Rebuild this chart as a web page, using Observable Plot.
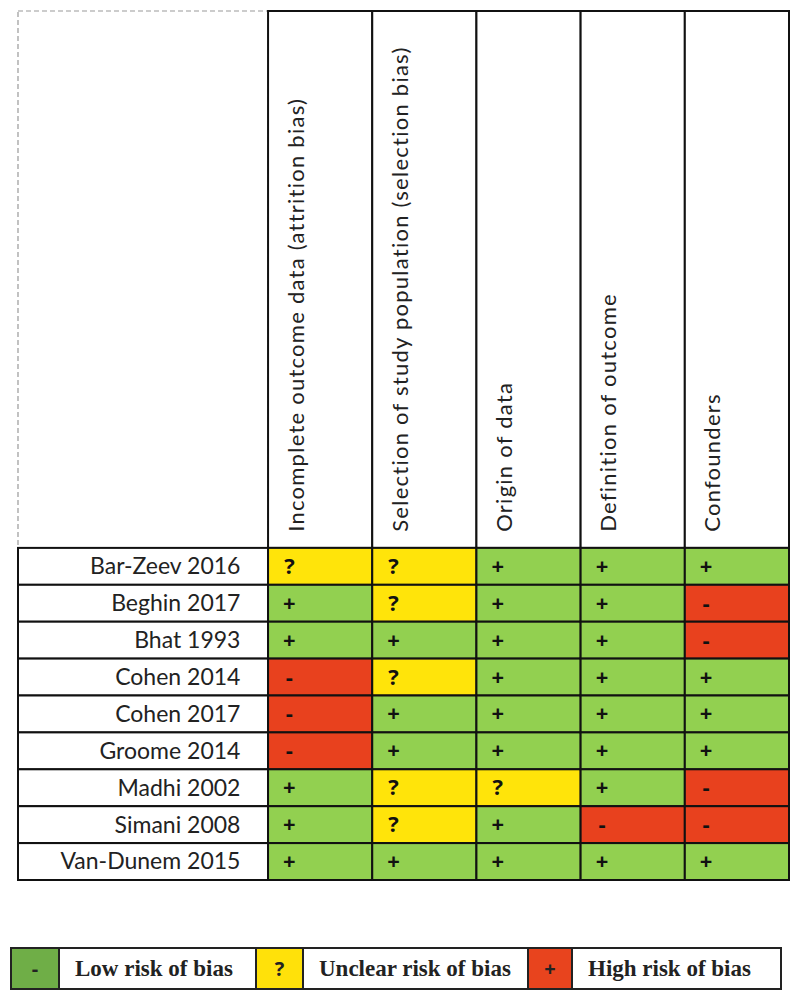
<!DOCTYPE html>
<html>
<head>
<meta charset="utf-8">
<script src="https://cdn.jsdelivr.net/npm/d3@7"></script>
<script src="https://cdn.jsdelivr.net/npm/@observablehq/plot@0.6"></script>
<style>
  body { margin: 0; background: #fff; }
  #wrap { position: relative; width: 800px; height: 1001px; }
  #legend { position: absolute; left: 10px; top: 947px; display: flex; height: 39px; border: 2px solid #222; font-family: "Liberation Serif", serif; font-weight: bold; font-size: 23px; color: #222; }
  #legend div { display: flex; align-items: center; box-sizing: border-box; height: 100%; }
  #legend .sw { justify-content: center; border-right: 2px solid #222; border-left: 2px solid #222; font-family: "Open Sans", sans-serif; font-size: 20px; }
  #legend .lab { padding-left: 15px; }
</style>
</head>
<body>
<div id="wrap"><div id="chart"></div><div id="legend"></div></div>
<script>
const studies = ["Bar-Zeev 2016","Beghin 2017","Bhat 1993","Cohen 2014","Cohen 2017","Groome 2014","Madhi 2002","Simani 2008","Van-Dunem 2015"];
const domains = ["Incomplete outcome data (attrition bias)","Selection of study population (selection bias)","Origin of data","Definition of outcome","Confounders"];
const incomplete  = ["?","+","+","-","-","-","+","+","+"];
const selection   = ["?","?","+","?","+","+","?","?","+"];
const origin      = ["+","+","+","+","+","+","?","+","+"];
const definition  = ["+","+","+","+","+","+","+","-","+"];
const confounders = ["+","-","-","+","+","+","-","-","+"];
const ratingSymbols = ["+","?","-"];
const ratingColors = ["#92d050","#ffe40a","#e8411e"];
const legendSymbols = ["-","?","+"];
const legendLabels = ["Low risk of bias","Unclear risk of bias","High risk of bias"];
const legendColors = ["#6fae47","#ffe10a","#e8441e"];

const ratings = [incomplete, selection, origin, definition, confounders];
const cells = [];
ratings.forEach((col, i) => col.forEach((r, j) => cells.push({col: i, row: j, r})));
const rows = studies.map((s, j) => ({row: j, s}));
const cols = domains.map((d, i) => ({col: i, d}));
const H = 14.55, NW = 2.4;

const plot = Plot.plot({
  width: 800, height: 900,
  margin: 0,
  x: {type: "linear", domain: [-NW, 5], range: [18, 789], axis: null},
  y: {type: "linear", domain: [-H, 9], range: [11, 880], axis: null},
  color: {type: "ordinal", domain: ratingSymbols, range: ratingColors},
  marks: [
    Plot.rect([{}], {x1: -NW, x2: 0, y1: -H, y2: 0, fill: "none", stroke: "#999", strokeWidth: 1.2, strokeDasharray: "5,3"}),
    Plot.rect(cols, {x1: d => d.col, x2: d => d.col + 1, y1: -H, y2: 0, fill: "white", stroke: "#111", strokeWidth: 2}),
    Plot.rect(rows, {x1: -NW, x2: 0, y1: d => d.row, y2: d => d.row + 1, fill: "white", stroke: "#111", strokeWidth: 2}),
    Plot.rect(cells, {x1: d => d.col, x2: d => d.col + 1, y1: d => d.row, y2: d => d.row + 1, fill: "r", stroke: "#111", strokeWidth: 2}),
    Plot.text(cols, {x: d => d.col + 0.27, y: -0.45, text: "d", rotate: -90, textAnchor: "start", fontSize: 22, fontFamily: "Lato, sans-serif", fill: "#222"}),
    Plot.text(rows, {x: -0.27, y: d => d.row + 0.5, text: "s", textAnchor: "end", fontSize: 23, fontFamily: "Lato, sans-serif", fill: "#222"}),
    Plot.text(cells, {x: d => d.col + 0.2, y: d => d.row + 0.5, text: "r", fontSize: 22, fontWeight: "bold", fontFamily: "Open Sans, sans-serif", fill: "#111"})
  ]
});
const textGroups = plot.querySelectorAll('g[aria-label="text"]');
if (textGroups.length) textGroups[0].style.letterSpacing = "1.25px";
document.getElementById("chart").appendChild(plot);

const legend = document.getElementById("legend");
const swW = [48, 49, 46], labW = [195, 223, 207];
legendLabels.forEach((lab, i) => {
  const sw = document.createElement("div");
  sw.className = "sw";
  sw.style.width = swW[i] + "px";
  sw.style.background = legendColors[i];
  if (i === 0) sw.style.borderLeft = "none";
  sw.textContent = legendSymbols[i];
  legend.appendChild(sw);
  const l = document.createElement("div");
  l.className = "lab";
  l.style.width = labW[i] + "px";
  l.textContent = lab;
  legend.appendChild(l);
});
</script>
</body>
</html>
